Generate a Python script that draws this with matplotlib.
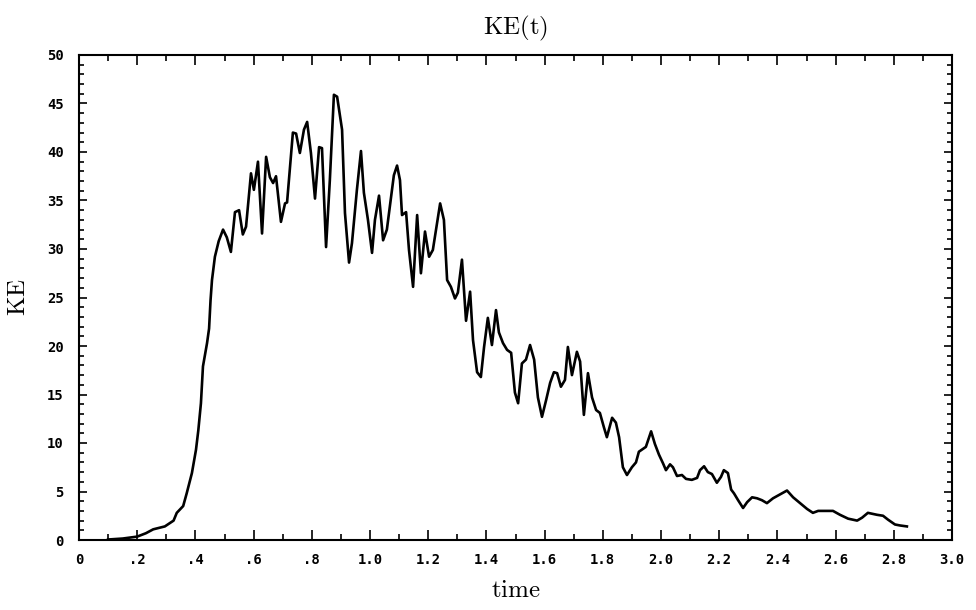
import matplotlib
matplotlib.use("Agg")
import matplotlib.pyplot as plt
from matplotlib.ticker import MultipleLocator, FixedLocator, FixedFormatter

plt.rcParams['mathtext.fontset'] = 'cm'

time = [0.10, 0.15, 0.20, 0.23, 0.255, 0.295, 0.325, 0.336, 0.358, 0.370, 0.388, 0.402,
        0.410, 0.419, 0.426, 0.440, 0.447, 0.452, 0.457, 0.467, 0.480, 0.495, 0.508, 0.522,
        0.536, 0.550, 0.563, 0.574, 0.591, 0.601, 0.615, 0.629, 0.643, 0.656, 0.667, 0.677,
        0.694, 0.708, 0.715, 0.735, 0.746, 0.759, 0.773, 0.784, 0.797, 0.811, 0.825, 0.835,
        0.849, 0.862, 0.876, 0.887, 0.904, 0.914, 0.928, 0.938, 0.955, 0.969, 0.979, 0.993,
        1.007, 1.017, 1.031, 1.045, 1.058, 1.082, 1.093, 1.103, 1.110, 1.124, 1.134, 1.148,
        1.162, 1.175, 1.189, 1.203, 1.216, 1.241, 1.254, 1.265, 1.278, 1.292, 1.302, 1.316,
        1.330, 1.344, 1.354, 1.368, 1.381, 1.392, 1.405, 1.419, 1.433, 1.443, 1.457, 1.471,
        1.485, 1.498, 1.509, 1.522, 1.536, 1.550, 1.564, 1.577, 1.591, 1.605, 1.619, 1.632,
        1.643, 1.656, 1.670, 1.680, 1.694, 1.711, 1.722, 1.735, 1.749, 1.763, 1.777, 1.790,
        1.804, 1.814, 1.832, 1.845, 1.856, 1.869, 1.883, 1.900, 1.914, 1.924, 1.948, 1.966,
        1.979, 1.993, 2.007, 2.017, 2.031, 2.041, 2.055, 2.072, 2.086, 2.106, 2.124, 2.134,
        2.148, 2.161, 2.175, 2.192, 2.206, 2.216, 2.230, 2.241, 2.251, 2.265, 2.282, 2.296,
        2.313, 2.330, 2.347, 2.364, 2.385, 2.409, 2.433, 2.454, 2.478, 2.502, 2.522, 2.540,
        2.570, 2.591, 2.615, 2.643, 2.674, 2.691, 2.711, 2.742, 2.763, 2.780, 2.804, 2.821,
        2.845]
ke = [0.05, 0.15, 0.35, 0.7, 1.1, 1.4, 2.0, 2.8, 3.5, 4.8, 6.9, 9.3,
      11.3, 14.1, 17.9, 20.3, 21.8, 24.7, 26.8, 29.2, 30.8, 32.0, 31.2, 29.7,
      33.8, 34.0, 31.5, 32.3, 37.8, 36.1, 39.0, 31.6, 39.5, 37.4, 36.8, 37.5,
      32.8, 34.7, 34.8, 42.0, 41.9, 39.9, 42.3, 43.1, 39.9, 35.2, 40.5, 40.4,
      30.2, 37.1, 45.9, 45.7, 42.3, 33.7, 28.6, 30.6, 36.1, 40.1, 35.8, 33.0,
      29.6, 33.0, 35.5, 30.9, 32.0, 37.6, 38.6, 37.1, 33.5, 33.8, 29.9, 26.1,
      33.5, 27.5, 31.8, 29.2, 29.9, 34.7, 33.0, 26.8, 26.1, 24.9, 25.5, 28.9,
      22.6, 25.6, 20.6, 17.3, 16.8, 19.9, 22.9, 20.1, 23.7, 21.4, 20.3, 19.6,
      19.3, 15.2, 14.1, 18.2, 18.6, 20.1, 18.6, 14.7, 12.7, 14.4, 16.2, 17.3,
      17.2, 15.8, 16.5, 19.9, 17.0, 19.4, 18.4, 12.9, 17.2, 14.7, 13.4, 13.1,
      11.6, 10.6, 12.6, 12.1, 10.6, 7.5, 6.7, 7.5, 8.0, 9.1, 9.6, 11.2,
      9.9, 8.8, 7.9, 7.2, 7.8, 7.5, 6.6, 6.7, 6.3, 6.2, 6.4, 7.2,
      7.6, 7.0, 6.8, 5.9, 6.5, 7.2, 6.9, 5.2, 4.8, 4.1, 3.3, 3.9,
      4.4, 4.3, 4.1, 3.8, 4.3, 4.7, 5.1, 4.4, 3.8, 3.2, 2.8, 3.0,
      3.0, 3.0, 2.6, 2.2, 2.0, 2.3, 2.8, 2.6, 2.5, 2.1, 1.6, 1.5,
      1.4]

xtick_vals = [0, 0.2, 0.4, 0.6, 0.8, 1.0, 1.2, 1.4, 1.6, 1.8, 2.0, 2.2, 2.4, 2.6, 2.8, 3.0]
xtick_labels = ['0', '.2', '.4', '.6', '.8', '1.0', '1.2', '1.4', '1.6', '1.8',
                '2.0', '2.2', '2.4', '2.6', '2.8', '3.0']
ytick_vals = [0, 5, 10, 15, 20, 25, 30, 35, 40, 45, 50]
ytick_labels = ['0', '5', '10', '15', '20', '25', '30', '35', '40', '45', '50']

fig = plt.figure(figsize=(9.76, 6.10), dpi=100)
ax = fig.add_axes([79/976, 70/610, (952-79)/976, (540-55)/610])

ax.plot(time, ke, color='black', lw=1.9)

ax.set_xlim(0, 3.0)
ax.set_ylim(0, 50)

ax.xaxis.set_major_locator(FixedLocator(xtick_vals))
ax.xaxis.set_major_formatter(FixedFormatter(xtick_labels))
ax.xaxis.set_minor_locator(MultipleLocator(0.1))
ax.yaxis.set_major_locator(FixedLocator(ytick_vals))
ax.yaxis.set_major_formatter(FixedFormatter(ytick_labels))
ax.yaxis.set_minor_locator(MultipleLocator(1))

ax.tick_params(axis='both', which='both', direction='in', top=True, right=True,
               color='black', width=1.2)
ax.tick_params(axis='x', which='major', length=7, pad=9)
ax.tick_params(axis='x', which='minor', length=4)
ax.tick_params(axis='y', which='major', length=6, pad=11)
ax.tick_params(axis='y', which='minor', length=3.5)

for lbl in ax.get_xticklabels() + ax.get_yticklabels():
    lbl.set_fontfamily('DejaVu Sans Mono')
    lbl.set_fontweight('bold')
    lbl.set_fontsize(10)

for sp in ax.spines.values():
    sp.set_linewidth(1.5)
    sp.set_color('black')

ax.set_title(r'$\mathrm{KE(t)}$', fontsize=18, pad=15)
ax.set_xlabel(r'$\mathrm{time}$', fontsize=18, labelpad=8)
ax.set_ylabel(r'$\mathrm{KE}$', fontsize=18, labelpad=12)

fig.savefig('out.png', dpi=100)
